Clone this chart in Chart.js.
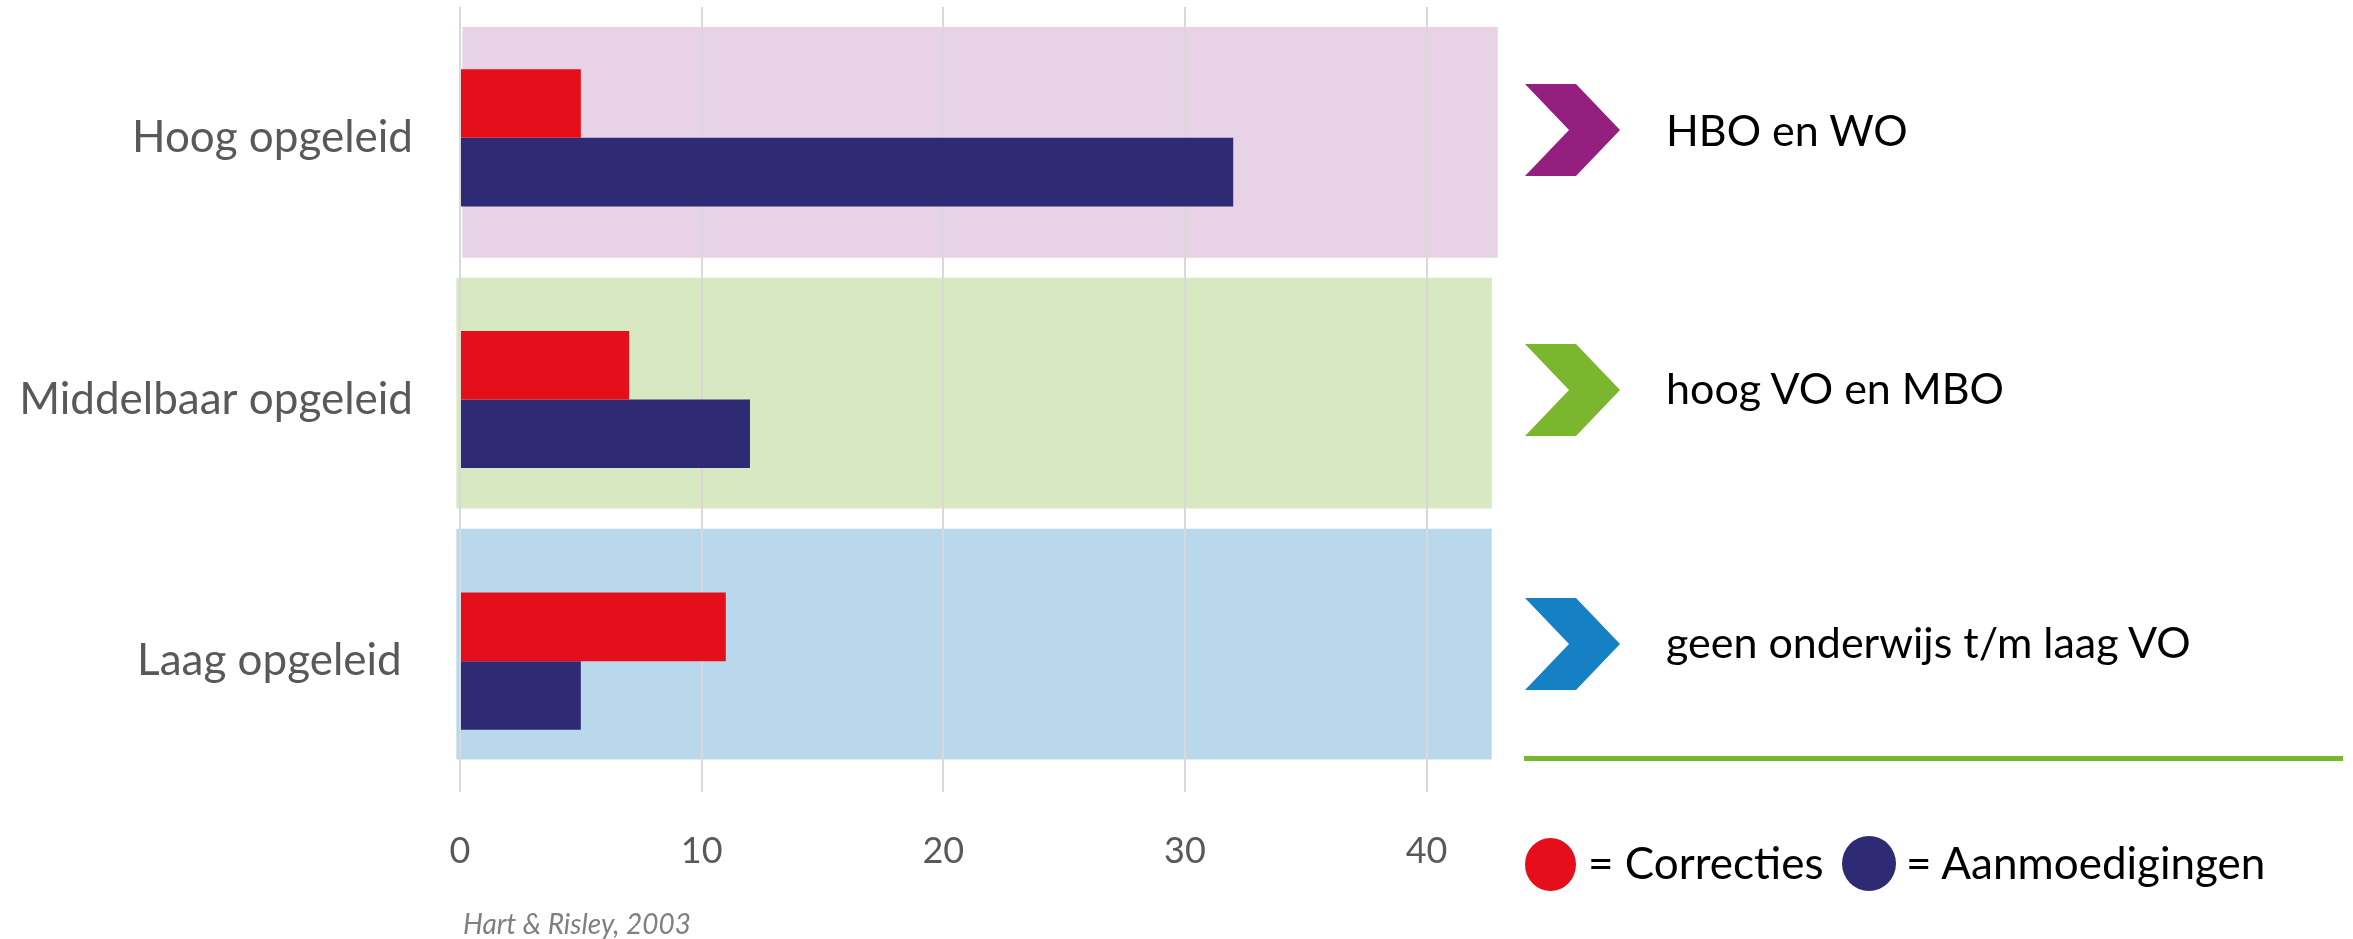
<!DOCTYPE html>
<html lang="nl">
<head>
<meta charset="utf-8">
<title>Correcties en aanmoedigingen naar opleidingsniveau</title>
<script src="https://cdn.jsdelivr.net/npm/chart.js@4.4.1/dist/chart.umd.min.js"></script>
<style>
  html, body { margin: 0; padding: 0; background: #fff; }
  #wrap { position: relative; width: 2353px; height: 939px; font-family: Lato, sans-serif; overflow: hidden; }
  canvas { position: absolute; left: 0; top: 0; }
  .chev { position: absolute; left: 1525px; width: 95px; height: 92px;
          clip-path: polygon(0 0, 51px 0, 95px 46px, 51px 92px, 0 92px, 44px 46px); }
  .txt { position: absolute; line-height: 1; color: #000; white-space: nowrap; transform: translateY(-50%); }
  .lvl { left: 1666px; font-size: 43px; }
  .dot { position: absolute; border-radius: 50%; }
  .lg { font-size: 44px; }
  #lijn { position: absolute; left: 1524px; top: 756px; width: 819px; height: 5px; background: #7AB72E; }
  #bron { position: absolute; left: 463px; top: 923px; font-size: 28px; font-style: italic; color: #808080; }
</style>
</head>
<body>
<div id="wrap">
  <canvas id="bandChart" width="2353" height="939"></canvas>
  <canvas id="myChart" width="2353" height="939"></canvas>
  <div id="lijn"></div>
</div>
<script>
// data
const categories = ['Hoog opgeleid', 'Middelbaar opgeleid', 'Laag opgeleid '];
const seriesNames = ['Correcties', 'Aanmoedigingen'];
const correcties = [5, 7, 11];
const aanmoedigingen = [32, 12, 5];
const xTicks = [0, 10, 20, 30, 40];

// gekleurde achtergrondbanden achter elke groep (van / tot op de x-as)
const bandStart = [0.1, -0.15, -0.15];
const bandEnd = [42.95, 42.7, 42.7];

// rechterkant: opleidingsniveaus
const niveaus = ['HBO en WO', 'hoog VO en MBO', 'geen onderwijs t/m laag VO'];
const bron = 'Hart & Risley, 2003';

// kleuren
const kleurSerie = ['#E40F1B', '#2E2A74'];
const kleurBand = ['#E8D3E6', '#D8E8C1', '#B9D8EC'];
const kleurPijl = ['#951F7E', '#7AB72E', '#1680C4'];

// posities van de pijlen en teksten rechts
const pijlTop = [84, 344, 598];
const tekstMidden = [129, 387, 641];

// zelfde plotvlak voor beide grafieken
const plotPadding = { top: 7, right: 854, bottom: 147, left: 460 };

function bouwZijkant() {
    const wrap = document.getElementById('wrap');
    niveaus.forEach((t, i) => {
        const p = document.createElement('div');
        p.className = 'chev';
        p.style.top = pijlTop[i] + 'px';
        p.style.background = kleurPijl[i];
        wrap.appendChild(p);

        const s = document.createElement('div');
        s.className = 'txt lvl';
        s.style.top = tekstMidden[i] + 'px';
        s.textContent = t;
        wrap.appendChild(s);
    });

    // legenda onderaan
    const dots = [{ l: 1525, t: 838, w: 51, h: 53 }, { l: 1842, t: 836, w: 54, h: 55 }];
    const tekstLinks = [1588, 1906];
    seriesNames.forEach((n, i) => {
        const d = document.createElement('div');
        d.className = 'dot';
        d.style.left = dots[i].l + 'px';
        d.style.top = dots[i].t + 'px';
        d.style.width = dots[i].w + 'px';
        d.style.height = dots[i].h + 'px';
        d.style.background = kleurSerie[i];
        wrap.appendChild(d);

        const s = document.createElement('div');
        s.className = 'txt lg';
        s.style.left = tekstLinks[i] + 'px';
        s.style.top = '862px';
        s.textContent = '= ' + n;
        wrap.appendChild(s);
    });

    const b = document.createElement('div');
    b.id = 'bron';
    b.className = 'txt';
    b.textContent = bron;
    wrap.appendChild(b);
}

function tekenBanden() {
    // onderste laag: alleen de gekleurde banden (rasterlijnen komen er bovenop)
    const bandData = categories.map((c, i) => ({ x: [bandStart[i], bandEnd[i]], y: i }));
    new Chart(document.querySelector('#bandChart').getContext('2d'), {
        type: 'bar',
        data: {
            datasets: [{
                label: 'achtergrond',
                data: bandData,
                backgroundColor: kleurBand,
                grouped: false,
                categoryPercentage: 1,
                barPercentage: 0.92,
                clip: false
            }]
        },
        options: {
            indexAxis: 'y',
            responsive: false,
            animation: false,
            devicePixelRatio: 1,
            layout: { padding: plotPadding },
            plugins: { legend: { display: false }, tooltip: { enabled: false } },
            scales: {
                x: { display: false, min: 0, max: 43 },
                y: {
                    type: 'linear',
                    display: false,
                    offset: false,
                    reverse: true,
                    min: -0.54,
                    max: 2.59,
                    afterBuildTicks: (scale) => {
                        scale.ticks = categories.map((c, i) => ({ value: i }));
                    }
                }
            }
        }
    });
}

function tekenStaven() {
    const config = {
        type: 'bar',
        data: {
            labels: categories,
            datasets: [
                {
                    label: seriesNames[0],
                    data: correcties,
                    backgroundColor: kleurSerie[0],
                    categoryPercentage: 0.524,
                    barPercentage: 1
                },
                {
                    label: seriesNames[1],
                    data: aanmoedigingen,
                    backgroundColor: kleurSerie[1],
                    categoryPercentage: 0.524,
                    barPercentage: 1
                }
            ]
        },
        options: {
            indexAxis: 'y',
            responsive: false,
            animation: false,
            devicePixelRatio: 1,
            layout: { padding: { top: plotPadding.top, right: plotPadding.right, bottom: 0, left: 0 } },
            plugins: {
                legend: { display: false },
                tooltip: { enabled: false }
            },
            scales: {
                x: {
                    min: 0,
                    max: 43,
                    border: { display: false },
                    grid: { color: '#D9D9D9', lineWidth: 2, drawTicks: false },
                    ticks: {
                        padding: 38,
                        color: '#595959',
                        font: { family: 'Lato', size: 36 }
                    },
                    afterBuildTicks: (scale) => {
                        scale.ticks = xTicks.map(v => ({ value: v }));
                    },
                    afterFit: (scale) => {
                        scale.height = plotPadding.bottom;
                        scale.paddingLeft = 0;
                        scale.paddingRight = 0;
                    }
                },
                y: {
                    border: { display: false },
                    grid: { display: false, drawTicks: false },
                    ticks: {
                        padding: 47,
                        color: '#595959',
                        font: { family: 'Lato', size: 44 }
                    },
                    afterFit: (scale) => {
                        scale.width = plotPadding.left;
                        scale.paddingTop = 0;
                        scale.paddingBottom = 0;
                    }
                }
            }
        }
    };
    new Chart(document.querySelector('#myChart').getContext('2d'), config);
}

function main() {
    bouwZijkant();
    tekenBanden();
    tekenStaven();
}

document.fonts.load('44px Lato').then(main, main);
</script>
</body>
</html>
